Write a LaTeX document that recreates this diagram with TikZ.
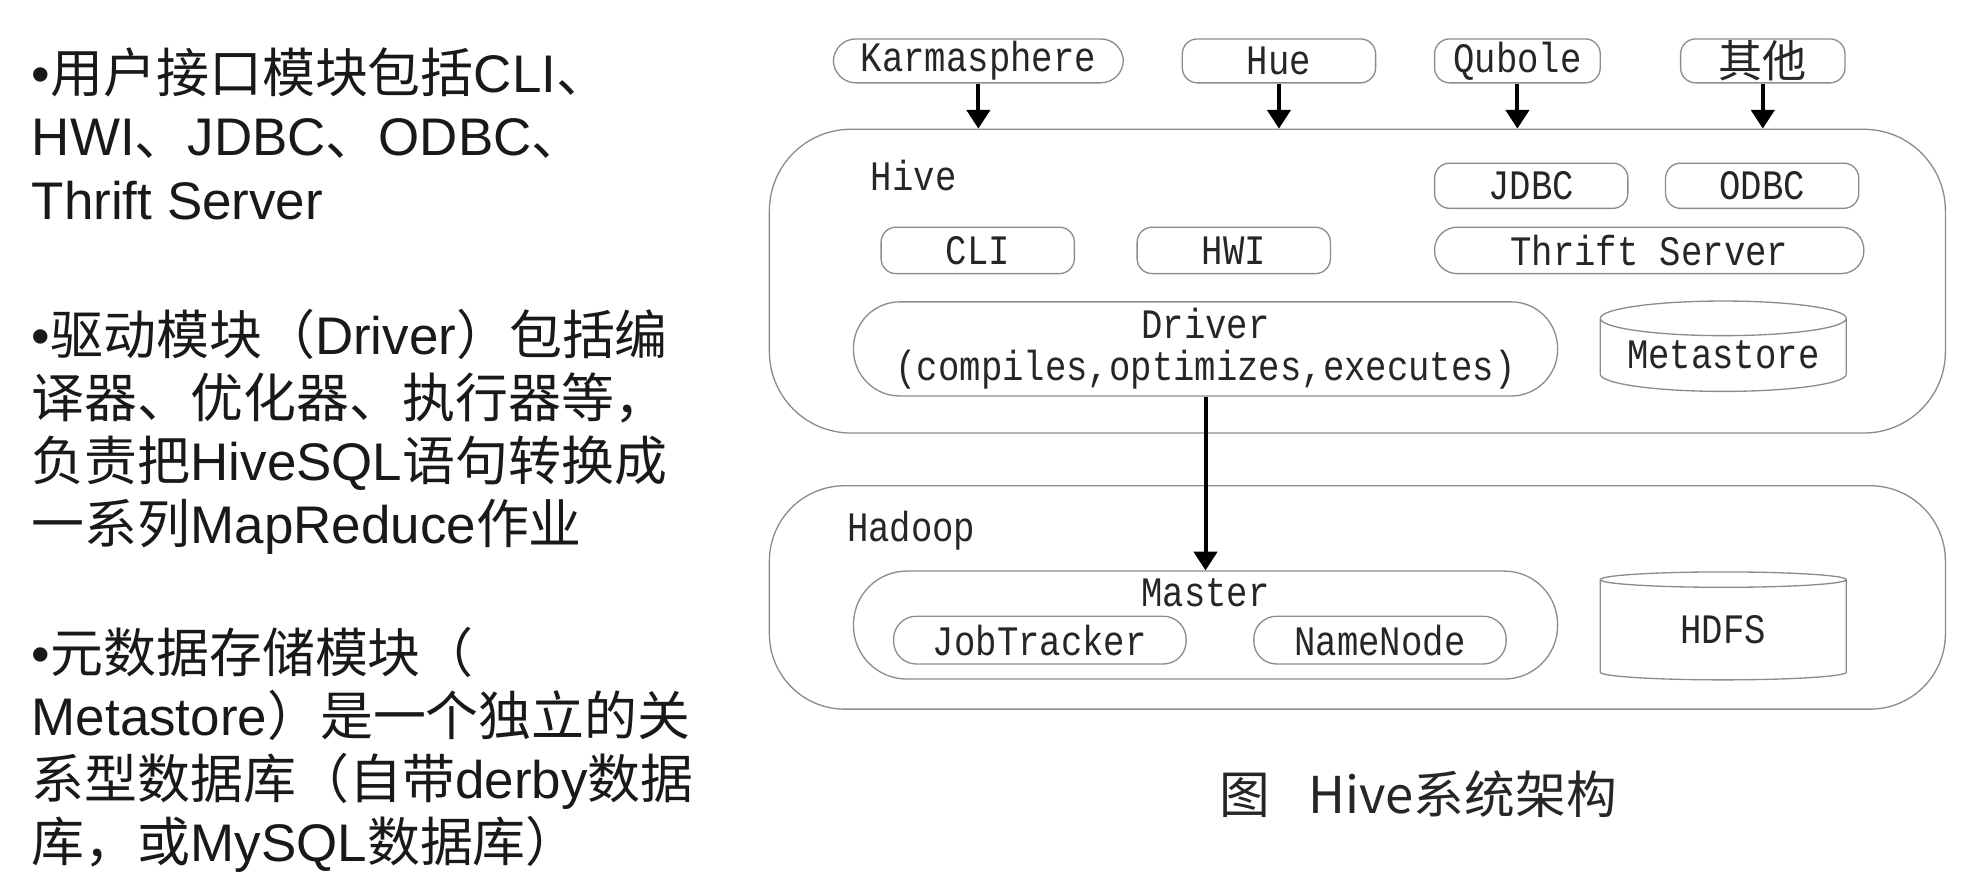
\documentclass[tikz,border=0pt]{standalone}
\usepackage{fontspec}
\setmainfont{Liberation Sans}
\newfontfamily\zhfont{Noto Sans CJK SC}
\newfontfamily\diagfont[FakeStretch=0.85]{Liberation Mono}
\usetikzlibrary{arrows.meta,shapes.geometric}
\newcommand{\zh}[1]{{\zhfont #1}}

\begin{document}
\begin{tikzpicture}[
  x=0.2mm, y=-0.2mm,
  >={Triangle[length=8.5pt,width=10.5pt]},
  box/.style={draw=black!45,line width=0.6pt,rounded corners=2.4mm,inner sep=0pt,
    minimum height=7.2mm,font=\diagfont\fontsize{19pt}{19pt}\selectfont,text=black!85},
  pill/.style={box,rounded corners=3.6mm},
  group/.style={draw=black!45,line width=0.6pt,inner sep=0pt,minimum width=187.4mm},
  store/.style={cylinder,shape border rotate=90,aspect=0.18,draw=black!45,line width=0.6pt,
    minimum width=39.2mm,inner sep=0pt,font=\diagfont\fontsize{19pt}{19pt}\selectfont,text=black!85},
  tag/.style={font=\diagfont\fontsize{19pt}{19pt}\selectfont,text=black!85,inner sep=0pt},
  flow/.style={->,line width=1.8pt},
  notes/.style={anchor=north west,align=left,inner sep=0pt,text=black!90,
    font=\fontsize{24pt}{28.6pt}\selectfont},
]
\useasboundingbox (0,0) rectangle (1568,712);

% left column: module notes
\node[notes] (intro1) at (25,38) {•\zh{用户接口模块包括}CLI\zh{、}\\HWI\zh{、}JDBC\zh{、}ODBC\zh{、}\\Thrift Server};
\node[notes] (intro2) at (25,246) {•\zh{驱动模块（}Driver\zh{）包括编}\\\zh{译器、优化器、执行器等，}\\\zh{负责把}HiveSQL\zh{语句转换成}\\\zh{一系列}MapReduce\zh{作业}};
\node[notes] (intro3) at (25,499) {•\zh{元数据存储模块（}\\Metastore\zh{）是一个独立的关}\\\zh{系型数据库（自带}derby\zh{数据}\\\zh{库，或}MySQL\zh{数据库）}};

% outer layers
\node[group,rounded corners=13mm,minimum height=48.4mm] (hive) at (1081.5,224) {};
\node[group,rounded corners=12mm,minimum height=35.6mm] (hadoop) at (1081.5,476) {};
\node[tag] (hivetag) at (728,140) {Hive};
\node[tag] (hadooptag) at (726,423) {Hadoop};

% clients
\node[pill,minimum width=46.2mm,minimum height=7mm] (karma) at (779.5,48.5) {Karmasphere};
\node[box,minimum width=30.8mm,minimum height=7mm] (hue) at (1019,48.5) {Hue};
\node[box,minimum width=26.4mm,minimum height=7mm] (qubole) at (1209,48.5) {Qubole};
\node[box,minimum width=26.2mm,minimum height=7mm,font=\zhfont\fontsize{20pt}{20pt}\selectfont] (other) at (1404.5,48.5) {其他};

% hive interfaces
\node[box,minimum width=30.8mm] (jdbc) at (1220,148) {JDBC};
\node[box,minimum width=30.8mm] (odbc) at (1404,148) {ODBC};
\node[box,minimum width=30.8mm,minimum height=7.4mm] (cli) at (779,199.5) {CLI};
\node[box,minimum width=30.8mm,minimum height=7.4mm] (hwi) at (983,199.5) {HWI};
\node[pill,minimum width=68.4mm,minimum height=7.4mm] (thrift) at (1314,199.5) {Thrift Server};
\node[box,rounded corners=7.4mm,minimum width=112.2mm,minimum height=15mm,align=center] (driver) at (960.5,278)
  {Driver\\(compiles,optimizes,executes)};
\node[store,minimum height=14.4mm] (meta) at (1373,283) {Metastore};

% hadoop parts
\node[box,rounded corners=8.5mm,minimum width=112.2mm,minimum height=17.2mm] (master) at (960.5,498) {};
\node[tag] (mastertag) at (960.5,472) {Master};
\node[pill,minimum width=46.6mm,minimum height=7.6mm] (jobtracker) at (828.5,510) {JobTracker};
\node[pill,minimum width=40.2mm,minimum height=7.6mm] (namenode) at (1099.5,510) {NameNode};
\node[store,minimum height=17.2mm] (hdfs) at (1373,502) {HDFS};

% arrows
\foreach \src in {karma,hue,qubole,other}
  \draw[flow] (\src.south) -- (\src.south |- hive.north);
\draw[flow] (driver.south) -- (master.north);

% caption
\node[font=\zhfont\fontsize{23pt}{23pt}\selectfont,text=black!85] (caption) at (1130,633) {图\hspace{0.75em}Hive系统架构};

\end{tikzpicture}
\end{document}
